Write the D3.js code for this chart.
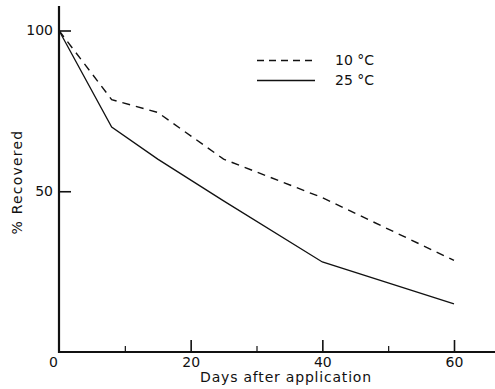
<!DOCTYPE html>
<html>
<head>
<meta charset="utf-8">
<script src="https://cdn.jsdelivr.net/npm/d3@7"></script>
<style>
  body { margin: 0; background: #fff; }
  svg { display: block; }
  text { font-family: "DejaVu Sans", sans-serif; fill: #111; }
</style>
</head>
<body>
<svg id="chart" width="495" height="389"></svg>
<script>
// days after application and % recovered for each temperature
const days = [0, 8, 15, 25, 40, 60];
const recovered10 = [100, 78.5, 74.5, 60, 48, 28.5];
const recovered25 = [100, 70, 60, 47, 28, 15];
const xMajorTicks = [0, 20, 40, 60];
const xMinorTicks = [10, 30, 50];
const yTicks = [0, 50, 100];
const seriesNames = ["10 \u00B0C", "25 \u00B0C"];

const svg = d3.select("#chart");

//Scales, origin sits at (59, 352)
const xScale = d3.scaleLinear().domain([0, 60]).range([59, 454]);
const yScale = d3.scaleLinear().domain([0, 100]).range([352, 30.5]);

//Axis lines drawn by hand so they can run past the last tick
svg.append("line")
    .attr("x1", xScale(0)).attr("x2", xScale(0))
    .attr("y1", 6).attr("y2", yScale(0) + 1)
    .attr("stroke", "#111").attr("stroke-width", 2.2);
svg.append("line")
    .attr("x1", xScale(0) - 1).attr("x2", 495)
    .attr("y1", yScale(0)).attr("y2", yScale(0))
    .attr("stroke", "#111").attr("stroke-width", 2);

//x axis, ticks point up into the plot
const xAxis = svg.append("g")
    .attr("transform", "translate(0," + yScale(0) + ")")
    .call(d3.axisBottom(xScale).tickValues(xMajorTicks).tickSize(-12).tickPadding(5).tickFormat(d3.format("d")));
xAxis.select(".domain").remove();
xAxis.selectAll("line").attr("stroke", "#111").attr("stroke-width", 1.6);
xAxis.selectAll("text").style("font-size", "14px").style("font-family", "DejaVu Sans, sans-serif");
xAxis.selectAll(".tick").filter(d => d === 0).select("line").remove();
xAxis.selectAll(".tick").filter(d => d === 0).select("text").attr("x", -6);

const xMinor = svg.append("g")
    .attr("transform", "translate(0," + yScale(0) + ")")
    .call(d3.axisBottom(xScale).tickValues(xMinorTicks).tickSize(-6).tickFormat(""));
xMinor.select(".domain").remove();
xMinor.selectAll("line").attr("stroke", "#111").attr("stroke-width", 1.2);

//y axis, ticks point right into the plot
const yAxis = svg.append("g")
    .attr("transform", "translate(" + xScale(0) + ",0)")
    .call(d3.axisLeft(yScale).tickValues(yTicks.slice(1)).tickSize(-12).tickPadding(6));
yAxis.select(".domain").remove();
yAxis.selectAll("line").attr("stroke", "#111").attr("stroke-width", 1.6);
yAxis.selectAll("text").style("font-size", "14px").style("font-family", "DejaVu Sans, sans-serif");

//Lines
const line = d3.line()
    .x(d => xScale(d[0]))
    .y(d => yScale(d[1]));

svg.append("path")
    .datum(d3.zip(days, recovered10))
    .attr("fill", "none")
    .attr("stroke", "#111")
    .attr("stroke-width", 1.4)
    .attr("stroke-dasharray", "8,6")
    .attr("d", line);

svg.append("path")
    .datum(d3.zip(days, recovered25))
    .attr("fill", "none")
    .attr("stroke", "#111")
    .attr("stroke-width", 1.3)
    .attr("d", line);

//Legend
const legend = svg.append("g");
legend.append("line")
    .attr("x1", 257).attr("x2", 315).attr("y1", 60.5).attr("y2", 60.5)
    .attr("stroke", "#111").attr("stroke-width", 1.4).attr("stroke-dasharray", "7,5");
legend.append("line")
    .attr("x1", 257).attr("x2", 315).attr("y1", 80.5).attr("y2", 80.5)
    .attr("stroke", "#111").attr("stroke-width", 1.3);
legend.selectAll("text.lab")
    .data(seriesNames)
    .join("text")
    .attr("class", "lab")
    .attr("x", 335)
    .attr("y", (d, i) => 65 + i * 20)
    .style("font-size", "14px")
    .text(d => d);

//Axis titles
svg.append("text")
    .attr("x", 286)
    .attr("y", 382)
    .attr("text-anchor", "middle")
    .style("font-size", "14px")
    .style("letter-spacing", "0.8px")
    .text("Days after application");

svg.append("text")
    .attr("transform", "translate(22,182) rotate(-90)")
    .attr("text-anchor", "middle")
    .style("font-size", "14px")
    .style("letter-spacing", "1.2px")
    .text("% Recovered");
</script>
</body>
</html>
